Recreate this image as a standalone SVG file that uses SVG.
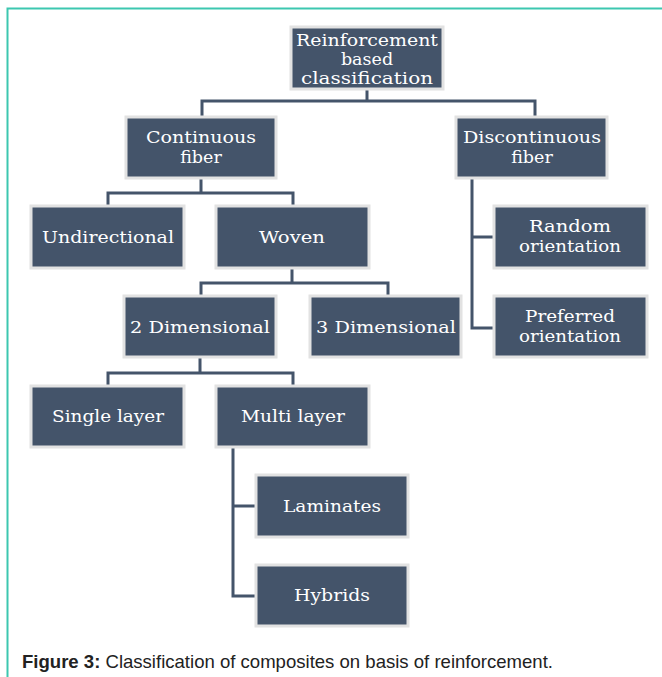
<svg xmlns="http://www.w3.org/2000/svg" width="662" height="677" viewBox="0 0 662 677">
<style>
.box{fill:#44546a;stroke:#e2e2e2;stroke-width:3}
.t{font-family:"DejaVu Serif","Liberation Serif",serif;font-size:17.5px;fill:#ffffff;text-anchor:middle}
.c{fill:none;stroke:#44546a;stroke-width:3}
.cap{font-family:"Liberation Sans",Arial,sans-serif;font-size:18.5px;fill:#222222}
</style>
<rect width="662" height="677" fill="#ffffff"/>
<path d="M7.5 677 V8.5 H662" fill="none" stroke="#3cc7b0" stroke-width="2"/>
<g id="connectors">
<path class="c" d="M367 89 V101 M202 117 V101 H535 V117"/>
<path class="c" d="M201 178 V193 M108 206 V193 H293 V206"/>
<path class="c" d="M292 268 V283 M201 296 V283 H388 V296"/>
<path class="c" d="M200 357 V373 M108 386 V373 H293 V386"/>
<path class="c" d="M472 178 V328 H494 M472 237 H494"/>
<path class="c" d="M233 447 V596 H256 M233 506 H256"/>
</g>
<g id="root"><rect class="box" x="291" y="27" width="152" height="62"/>
<text class="t" x="367" y="46" textLength="142" lengthAdjust="spacingAndGlyphs">Reinforcement</text>
<text class="t" x="367" y="65">based</text>
<text class="t" x="367" y="84" textLength="132" lengthAdjust="spacingAndGlyphs">classification</text></g>
<g id="continuous"><rect class="box" x="126" y="117" width="150" height="61"/>
<text class="t" x="201" y="143" textLength="110" lengthAdjust="spacingAndGlyphs">Continuous</text>
<text class="t" x="201" y="163">fiber</text></g>
<g id="discontinuous"><rect class="box" x="456" y="117" width="151" height="61"/>
<text class="t" x="532" y="143" textLength="138" lengthAdjust="spacingAndGlyphs">Discontinuous</text>
<text class="t" x="532" y="163">fiber</text></g>
<g id="undirectional"><rect class="box" x="31" y="206" width="153" height="62"/>
<text class="t" x="108" y="243" textLength="132" lengthAdjust="spacingAndGlyphs">Undirectional</text></g>
<g id="woven"><rect class="box" x="216" y="206" width="153" height="62"/>
<text class="t" x="292" y="243" textLength="66" lengthAdjust="spacingAndGlyphs">Woven</text></g>
<g id="random"><rect class="box" x="494" y="206" width="153" height="62"/>
<text class="t" x="570" y="232" textLength="82" lengthAdjust="spacingAndGlyphs">Random</text>
<text class="t" x="570" y="252" textLength="102" lengthAdjust="spacingAndGlyphs">orientation</text></g>
<g id="twod"><rect class="box" x="124" y="296" width="152" height="61"/>
<text class="t" x="200" y="333" textLength="140" lengthAdjust="spacingAndGlyphs">2 Dimensional</text></g>
<g id="threed"><rect class="box" x="310" y="296" width="151" height="61"/>
<text class="t" x="386" y="333" textLength="140" lengthAdjust="spacingAndGlyphs">3 Dimensional</text></g>
<g id="preferred"><rect class="box" x="494" y="296" width="153" height="61"/>
<text class="t" x="570" y="322" textLength="90" lengthAdjust="spacingAndGlyphs">Preferred</text>
<text class="t" x="570" y="342" textLength="102" lengthAdjust="spacingAndGlyphs">orientation</text></g>
<g id="single"><rect class="box" x="31" y="386" width="153" height="61"/>
<text class="t" x="108" y="422" textLength="112" lengthAdjust="spacingAndGlyphs">Single layer</text></g>
<g id="multi"><rect class="box" x="216" y="386" width="153" height="61"/>
<text class="t" x="293" y="422" textLength="104" lengthAdjust="spacingAndGlyphs">Multi layer</text></g>
<g id="laminates"><rect class="box" x="256" y="475" width="152" height="62"/>
<text class="t" x="332" y="512" textLength="98" lengthAdjust="spacingAndGlyphs">Laminates</text></g>
<g id="hybrids"><rect class="box" x="256" y="565" width="152" height="61"/>
<text class="t" x="332" y="601" textLength="76" lengthAdjust="spacingAndGlyphs">Hybrids</text></g>
<text class="cap" x="22" y="668" textLength="531" lengthAdjust="spacingAndGlyphs"><tspan font-weight="bold">Figure 3:</tspan> Classification of composites on basis of reinforcement.</text>
</svg>
